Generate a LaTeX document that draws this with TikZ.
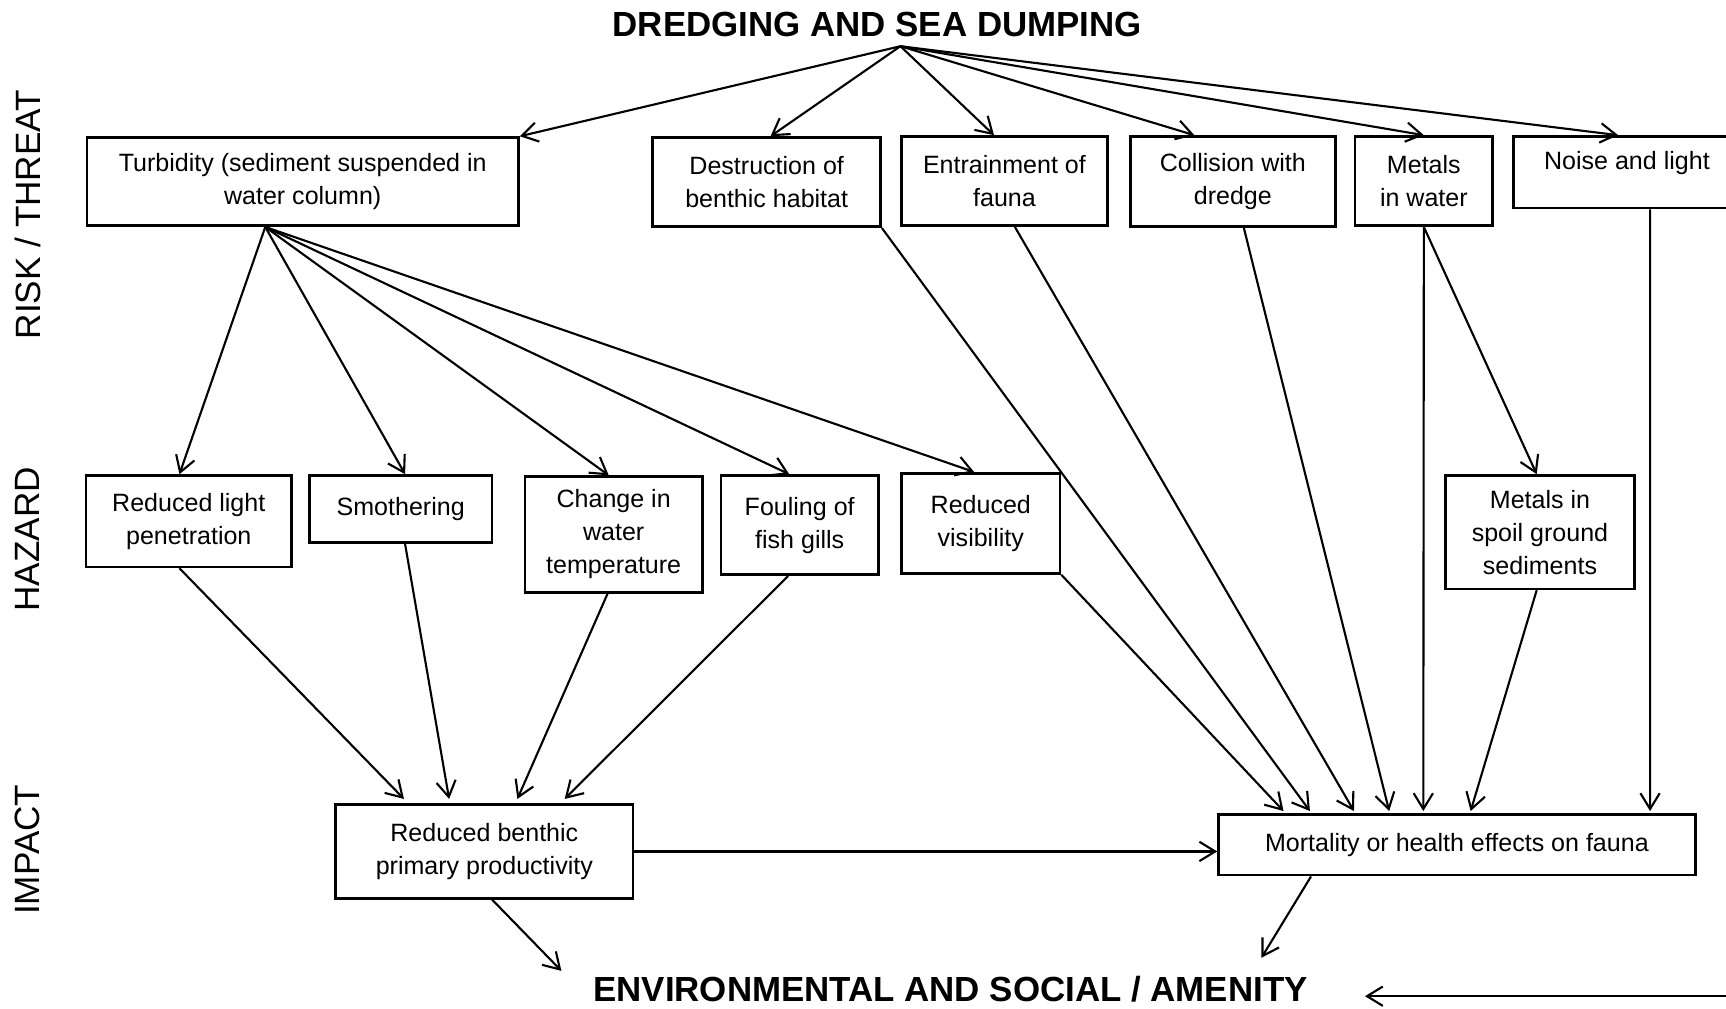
\documentclass[tikz,border=0pt]{standalone}
\usepackage{fontspec}
\setmainfont{Liberation Sans}
\usetikzlibrary{arrows.meta,calc}
\tikzset{
  bx/.style 2 args={draw, line width=1.5pt, align=center, inner sep=0pt,
    minimum width=#1*0.022016cm, minimum height=#2*0.022016cm,
    font=\fontsize{14.25}{18.8}\selectfont},
  txt/.style={align=center, inner sep=0pt, font=\fontsize{14.25}{18.8}\selectfont},
  ttl/.style={inner sep=0pt, font=\bfseries\fontsize{19.85}{24}\selectfont},
  lbl/.style={inner sep=0pt, rotate=90, font=\fontsize{20}{24}\selectfont},
  arr/.style={-{Straight Barb[length=9pt,width=11pt]}, line width=1.2pt}
}
\begin{document}
\begin{tikzpicture}[x=0.022016cm, y=-0.022016cm]
\fill[white] (0,0) rectangle (1568,916);
\useasboundingbox (0,0) rectangle (1568,916);
\clip (0,0) rectangle (1568,916);

% side labels
\node[lbl] (lrisk) at (25,195) {RISK / THREAT};
\node[lbl] (lhaz) at (25,490) {HAZARD};
\node[lbl] (limp) at (25,772) {IMPACT};

% titles
\node[ttl] (title) at (797,22) {DREDGING AND SEA DUMPING};
\coordinate (apex) at (818,42);
\node[ttl] (env) at (863.5,899) {ENVIRONMENTAL AND SOCIAL / AMENITY};
\coordinate (envA) at (510,882);
\coordinate (envB) at (1146,870);
\coordinate (envR) at (1240,905);
\coordinate (rstart) at (1620,905);

% risk / threat row
\node[bx={392}{80}] (turb) at (275,165) {Turbidity (sediment suspended in\\water column)};
\node[bx={207}{81}] (destr) at (696.5,165.5) {Destruction of\\benthic habitat};
\node[bx={187}{81}] (entr) at (912.5,164.5) {Entrainment of\\fauna};
\node[bx={186}{82}] (coll) at (1120,165) {Collision with\\dredge};
\node[bx={125}{81}] (metw) at (1293.5,164.5) {Metals\\in water};
\node[bx={210}{65}] (noise) at (1480,156.5) {};
\node[txt] (noiset) at (1478,148) {Noise and light};

% hazard row
\node[bx={187}{83}] (rlp) at (171.5,473.5) {Reduced light\\penetration};
\node[bx={166}{61}] (smo) at (364,462.5) {Smothering};
\node[bx={161}{105}] (cwt) at (557.5,485.5) {Change in\\water\\temperature};
\node[bx={143}{90}] (ffg) at (726.5,477) {Fouling of\\fish gills};
\node[bx={144}{91}] (rvis) at (891,475.5) {Reduced\\visibility};
\node[bx={172}{103}] (msg) at (1399,483.5) {Metals in\\spoil ground\\sediments};

% impact row
\node[bx={270}{85}] (rbpp) at (440,773.5) {Reduced benthic\\primary productivity};
\node[bx={433}{55}] (mort) at (1323.5,767.5) {Mortality or health effects on fauna};

% arrows from the source
\draw[arr] (apex) -- (turb.north east);
\draw[arr] (apex) -- ($(destr.north)+(3.5,0)$);
\draw[arr] (apex) -- ($(entr.north)+(-9.5,0)$);
\draw[arr] (apex) -- ($(coll.north)+(-35,0)$);
\draw[arr] (apex) -- (metw.north);
\draw[arr] (apex) -- ($(noise.north)+(-10,0)$);

% turbidity to hazards
\coordinate (tsrc) at ($(turb.south)+(-34,0)$);
\draw[arr] (tsrc) -- ($(rlp.north)+(-8.5,0)$);
\draw[arr] (tsrc) -- ($(smo.north)+(4,0)$);
\draw[arr] (tsrc) -- ($(cwt.north)+(-4.5,0)$);
\draw[arr] (tsrc) -- ($(ffg.north)+(-9.5,0)$);
\draw[arr] (tsrc) -- ($(rvis.north)+(-6,0)$);

% hazards to reduced benthic productivity
\draw[arr] ($(rlp.south)+(-8.5,0)$) -- ($(rbpp.north)+(-73,-4)$);
\draw[arr] ($(smo.south)+(4,0)$) -- ($(rbpp.north)+(-32,-4)$);
\draw[arr] ($(cwt.south)+(-5.5,0)$) -- ($(rbpp.north)+(30,-4)$);
\draw[arr] ($(ffg.south)+(-10.5,0)$) -- ($(rbpp.north)+(73,-4)$);

% to mortality
\draw[arr] (rvis.south east) -- ($(mort.north)+(-157.5,-2)$);
\draw[arr] (destr.south east) -- ($(mort.north)+(-133.5,-2)$);
\draw[arr] ($(entr.south)+(9.5,0)$) -- ($(mort.north)+(-93.5,-2)$);
\draw[arr] ($(coll.south)+(10,0)$) -- ($(mort.north)+(-61.5,-2)$);
\draw[arr] (metw.south) -- ($(mort.north)+(-30.5,-2)$);
\draw[arr] (metw.south) -- ($(msg.north)+(-3,0)$);
\draw[arr] ($(msg.south)+(-3,0)$) -- ($(mort.north)+(12.5,-2)$);
\draw[arr] ($(noise.south)+(19,0)$) -- ($(mort.north)+(175.5,-2)$);

% impact links
\draw[arr] (rbpp.east) -- (rbpp.east -| mort.west);
\draw[arr] ($(rbpp.south)+(7,0)$) -- (envA);
\draw[arr] ($(mort.south)+(-132.5,0)$) -- (envB);
\draw[arr] (rstart) -- (envR);
\end{tikzpicture}
\end{document}
